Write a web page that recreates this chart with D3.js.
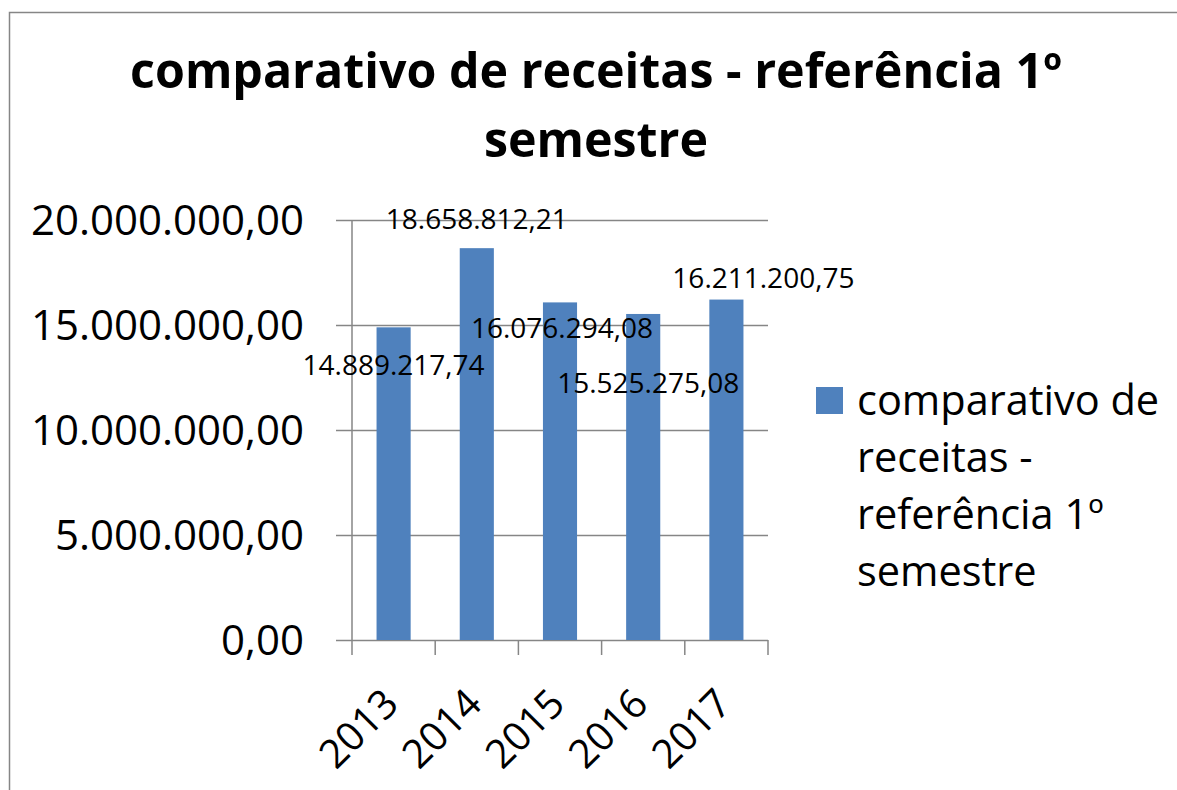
<!DOCTYPE html>
<html><head><meta charset="utf-8">
<script src="https://cdn.jsdelivr.net/npm/d3@7"></script>
<style>
body{margin:0;background:#fff}
svg{display:block}
text{font-family:"Open Sans",sans-serif;fill:#000}
</style>
</head><body>
<svg id="chart" width="1177" height="790"></svg>
<script>
const categories = ["2013", "2014", "2015", "2016", "2017"];
const values = [14889217.74, 18658812.21, 16076294.08, 15525275.08, 16211200.75];
const valueLabels = ["14.889.217,74", "18.658.812,21", "16.076.294,08", "15.525.275,08", "16.211.200,75"];
const yTicks = [0, 5000000, 10000000, 15000000, 20000000];
const yTickLabels = ["0,00", "5.000.000,00", "10.000.000,00", "15.000.000,00", "20.000.000,00"];
const titleLines = ["comparativo de receitas - referência 1º", "semestre"];
const legendLines = ["comparativo de", "receitas -", "referência 1º", "semestre"];

(function () {
const svg = d3.select("#chart");
const barColor = "#4F81BD";
const gridColor = "#868686";

// outer border
svg.append("rect").attr("x", 9.5).attr("y", 12.5).attr("width", 1300).attr("height", 900)
  .attr("fill", "none").attr("stroke", gridColor).attr("stroke-width", 1.5);

// title
const titleText = svg.append("g").selectAll("text").data(titleLines).join("text")
  .attr("x", 596).attr("y", (d, i) => 88 + i * 69)
  .attr("text-anchor", "middle").attr("font-weight", "bold")
  .attr("font-size", 46).text(d => d);
const tw = titleText.node().getComputedTextLength();
titleText.attr("font-size", 46 * 932 / tw);

const pLeft = 352, pRight = 768, pTop = 220, pBottom = 640;
const x = d3.scaleBand().domain(categories).range([pLeft, pRight]).paddingInner(0.59).paddingOuter(0.295);
const y = d3.scaleLinear().domain([0, 20000000]).range([pBottom, pTop]);

// gridlines
svg.append("g").selectAll("line").data(yTicks).join("line")
  .attr("x1", pLeft - 16).attr("x2", pRight)
  .attr("y1", d => Math.round(y(d)) + 0.5).attr("y2", d => Math.round(y(d)) + 0.5)
  .attr("stroke", gridColor).attr("stroke-width", 1.5);

// y axis line
svg.append("line").attr("x1", pLeft).attr("x2", pLeft).attr("y1", pTop).attr("y2", pBottom)
  .attr("stroke", gridColor).attr("stroke-width", 1.5);

// x ticks at band boundaries
const step = x.step();
const bounds = d3.range(categories.length + 1).map(i => pLeft + i * step);
svg.append("g").selectAll("line").data(bounds).join("line")
  .attr("x1", d => d).attr("x2", d => d).attr("y1", pBottom).attr("y2", pBottom + 15)
  .attr("stroke", gridColor).attr("stroke-width", 1.5);

// y labels
svg.append("g").selectAll("text").data(yTicks).join("text")
  .attr("x", 304).attr("y", d => y(d)).attr("dy", "0.36em")
  .attr("text-anchor", "end").attr("font-size", 42)
  .text((d, i) => yTickLabels[i]);

// bars
svg.append("g").selectAll("rect").data(values).join("rect")
  .attr("x", (d, i) => x(categories[i])).attr("width", x.bandwidth())
  .attr("y", d => y(d)).attr("height", d => pBottom - y(d))
  .attr("fill", barColor);

// data labels
const labelDx = [0, 0, 2, 5, 37];
const labelDy = [38, -29, 26, 69, -22];
svg.append("g").selectAll("text").data(values).join("text")
  .attr("x", (d, i) => x(categories[i]) + x.bandwidth() / 2 + labelDx[i])
  .attr("y", (d, i) => y(d) + labelDy[i]).attr("dy", "0.36em")
  .attr("text-anchor", "middle").attr("font-size", 28)
  .text((d, i) => valueLabels[i]);

// x labels
svg.append("g").selectAll("text").data(categories).join("text")
  .attr("transform", d => `translate(${x(d) + x.bandwidth() / 2 + 7},706) rotate(-45)`)
  .attr("text-anchor", "end").attr("font-size", 40)
  .text(d => d);

// legend
svg.append("rect").attr("x", 816).attr("y", 387).attr("width", 27).attr("height", 27).attr("fill", barColor);
svg.append("g").selectAll("text").data(legendLines).join("text")
  .attr("x", 857).attr("y", (d, i) => 415 + i * 57)
  .attr("font-size", 41.5).text(d => d);
})();
</script>
</body></html>
